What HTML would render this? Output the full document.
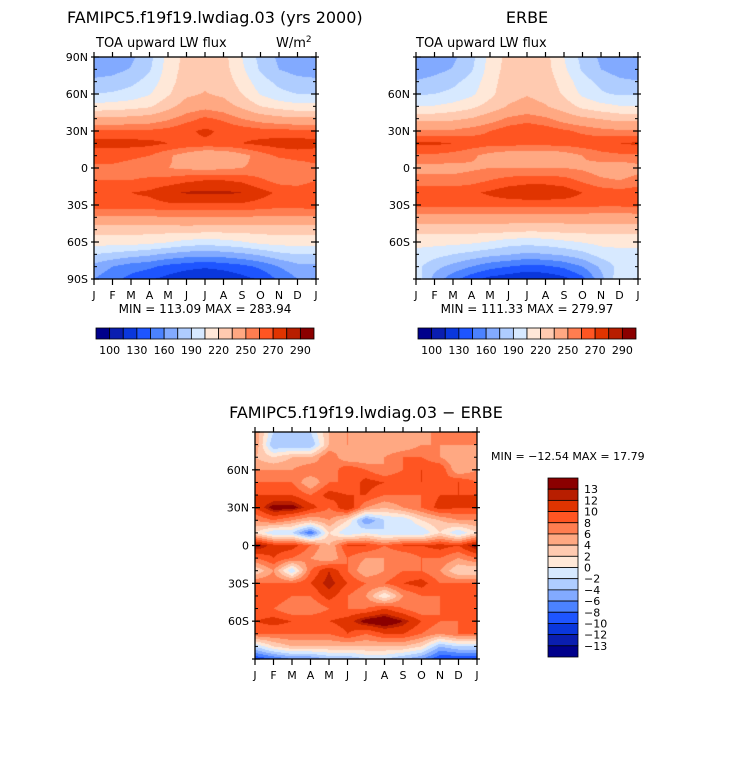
<!DOCTYPE html>
<html><head><meta charset="utf-8"><style>
body{margin:0;background:#fff;width:733px;height:770px;overflow:hidden;position:relative;font-family:"Liberation Sans","DejaVu Sans",sans-serif}
canvas{position:absolute}
svg{position:absolute;left:0;top:0}
text{font-family:"DejaVu Sans","Liberation Sans",sans-serif;fill:#000}
</style></head><body>
<canvas id="c1" width="222" height="222" style="left:94px;top:57px"></canvas>
<canvas id="c2" width="222" height="222" style="left:416px;top:57px"></canvas>
<canvas id="c3" width="222" height="227" style="left:255px;top:432px"></canvas>
<svg id="s" width="733" height="770"></svg>
<script>
const months=["J","F","M","A","M","J","J","A","S","O","N","D","J"];
const lats=[90,80,70,60,50,40,30,20,10,0,-10,-20,-30,-40,-50,-60,-70,-80,-90];
const colors=["#00008b","#0a1eb0","#0a37dc","#1e55ff","#4b82ff","#82aaff","#afcdff","#d7e9ff","#ffe8d8","#ffcab0","#ffa882","#ff7d50","#ff5522","#e03400","#b81e00","#8b0000"];
const levelsAbs=[100,115,130,145,160,175,190,205,220,235,250,260,270,280,290];
const levelsDiff=[-13,-12,-10,-8,-6,-4,-2,0,2,4,6,8,10,12,13];
const labelsAbs=["100","130","160","190","220","250","270","290"];
const labelsDiff=["13","12","10","8","6","4","2","0","−2","−4","−6","−8","−10","−12","−13"];
const model=[
[165,167,172,185,210,225,228,225,205,185,172,166,165],
[168,170,176,188,212,226,230,226,208,188,175,169,168],
[178,180,186,196,214,228,232,228,214,196,186,180,178],
[190,192,196,204,218,232,236,232,220,204,194,190,190],
[210,212,214,218,230,242,246,242,232,220,214,210,210],
[238,238,240,242,248,256,262,258,250,244,240,238,238],
[262,262,262,262,264,268,272,268,266,264,264,262,262],
[274,274,274,273,270,268,268,268,270,273,275,276,274],
[264,264,262,260,252,244,236,238,246,255,262,264,264],
[258,258,256,254,250,248,246,248,250,252,250,254,258],
[260,260,260,262,264,268,270,270,268,262,256,255,260],
[268,268,270,272,278,281,282,282,280,274,268,266,268],
[266,266,266,266,268,268,268,268,268,266,264,264,266],
[248,248,248,248,250,250,250,250,250,248,248,248,248],
[226,226,226,226,226,228,226,226,226,226,226,226,226],
[212,212,212,210,206,200,198,200,204,210,212,212,212],
[190,186,182,178,172,168,166,168,172,178,186,190,190],
[170,160,152,148,140,135,132,135,140,148,160,170,170],
[160,150,140,132,125,118,115,118,125,132,148,160,160]];
const erbe=[
[160,165,172,185,210,225,230,225,205,185,172,165,160],
[166,170,176,188,212,226,232,226,208,188,175,168,166],
[176,180,186,196,214,228,232,228,214,196,186,178,176],
[188,190,194,202,216,230,234,230,218,202,192,188,188],
[206,206,210,216,226,236,240,236,228,216,210,206,206],
[230,230,232,236,244,252,256,252,244,238,234,230,230],
[252,252,252,256,260,266,268,266,262,258,254,252,252],
[272,272,270,266,264,264,264,264,264,266,268,270,272],
[258,258,256,252,246,242,240,240,244,250,256,258,258],
[246,246,246,248,250,250,250,250,250,248,244,242,246],
[254,254,254,256,260,264,266,266,264,258,252,250,254],
[266,266,266,268,272,276,278,278,276,270,266,264,266],
[264,264,264,264,264,264,264,264,264,264,262,262,264],
[244,244,244,244,244,244,244,244,244,244,244,244,244],
[226,226,226,226,226,226,224,224,226,226,226,226,226],
[210,210,210,208,204,198,196,198,202,206,210,210,210],
[200,196,190,185,180,176,172,174,178,185,196,200,200],
[195,180,170,160,150,145,140,142,148,160,178,195,195],
[200,170,150,135,125,120,115,118,125,140,170,200,200]];
const diff=[
[6,-2,-4,-2,4,6,6,4,6,4,8,6,6],
[6,-4,-4,-4,4,6,4,4,4,6,6,6,6],
[4,2,4,4,8,4,4,6,8,8,6,4,4],
[6,6,6,8,6,10,8,6,8,10,10,4,6],
[8,8,8,4,8,8,11,10,10,10,8,10,8],
[10,10,10,8,11,10,10,8,8,8,10,10,10],
[10,14,14,11,8,12,6,4,6,8,11,10,10],
[6,8,6,4,6,2,-6,-2,-2,2,4,6,6],
[2,-2,-2,-8,2,-2,0,-2,-2,-2,2,-2,2],
[14,11,11,8,4,10,10,8,10,10,11,10,14],
[8,10,8,6,4,8,6,6,6,8,8,6,8],
[2,6,-2,8,12,8,4,6,8,8,6,2,2],
[8,8,8,10,13,10,8,8,10,11,8,8,8],
[10,10,8,8,11,8,6,0,6,8,8,10,10],
[8,8,6,6,8,8,8,10,8,6,8,8,8],
[10,11,10,10,10,11,14,15,13,10,8,8,10],
[8,8,8,8,8,10,8,10,10,8,6,8,8],
[-2,2,4,4,4,4,4,4,4,2,-4,-2,-2],
[-10,-8,-6,-6,-4,-4,-2,-2,-4,-6,-10,-10,-10]];

function hex(c){return [parseInt(c.substr(1,2),16),parseInt(c.substr(3,2),16),parseInt(c.substr(5,2),16)];}
const rgb=colors.map(hex);
function draw(id,data,levels){
  const cv=document.getElementById(id),ctx=cv.getContext('2d'),W=cv.width,H=cv.height;
  const img=ctx.createImageData(W,H);
  const nc=months.length-1,nr=lats.length-1;
  for(let y=0;y<H;y++){
    const fy=(y+0.5)/H*nr,r=Math.min(nr-1,Math.floor(fy)),ty=fy-r;
    for(let x=0;x<W;x++){
      const fx=(x+0.5)/W*nc,c=Math.min(nc-1,Math.floor(fx)),tx=fx-c;
      const v=(data[r][c]*(1-tx)+data[r][c+1]*tx)*(1-ty)+(data[r+1][c]*(1-tx)+data[r+1][c+1]*tx)*ty;
      let k=0;while(k<levels.length&&v>=levels[k])k++;
      const col=rgb[k],i=(y*W+x)*4;
      img.data[i]=col[0];img.data[i+1]=col[1];img.data[i+2]=col[2];img.data[i+3]=255;
    }
  }
  ctx.putImageData(img,0,0);
}
draw('c1',model,levelsAbs);draw('c2',erbe,levelsAbs);draw('c3',diff,levelsDiff);

const svg=document.getElementById('s'),NS="http://www.w3.org/2000/svg";
function el(t,a,parent){const e=document.createElementNS(NS,t);for(const k in a)e.setAttribute(k,a[k]);(parent||svg).appendChild(e);return e;}
function txt(s,x,y,size,anchor,name){const e=el('text',{x:x,y:y,'font-size':size,'text-anchor':anchor||'start'});e.textContent=s;


return e;}
function frame(x0,y0,x1,y1,latLabels,pre){
  const g=el('g',{});
  
  
  el('rect',{x:x0,y:y0,width:x1-x0,height:y1-y0,fill:'none',stroke:'#000','stroke-width':1.3},g);
  const ys=v=>y0+(90-v)/180*(y1-y0);
  for(let v=-80;v<=80;v+=10){const y=ys(v);
    el('line',{x1:x0,y1:y,x2:x0+3,y2:y,stroke:'#000'},g);el('line',{x1:x1-3,y1:y,x2:x1,y2:y,stroke:'#000'},g);}
  for(let v=-90;v<=90;v+=30){const y=ys(v);
    el('line',{x1:x0-3,y1:y,x2:x0+5,y2:y,stroke:'#000','stroke-width':1.2},g);el('line',{x1:x1-5,y1:y,x2:x1+3,y2:y,stroke:'#000','stroke-width':1.2},g);}
  latLabels.forEach(v=>{const s=v==0?'0':(Math.abs(v)+(v>0?'N':'S'));txt(s,x0-6,ys(v)+4,11,'end',pre+'-lat-label');});
  months.forEach((m,i)=>{const x=x0+i*(x1-x0)/(months.length-1);
    el('line',{x1:x,y1:y1,x2:x,y2:y1+6,stroke:'#000','stroke-width':1.2},g);
    el('line',{x1:x,y1:y0,x2:x,y2:y0-5,stroke:'#000','stroke-width':1.2},g);
    txt(m,x,y1+20,11,'middle',pre+'-month-label');});
}
frame(94,57,316,279,[90,60,30,0,-30,-60,-90],'model');
frame(416,57,638,279,[60,30,0,-30,-60],'erbe');
frame(255,432,477,659,[60,30,0,-30,-60],'diff');

function hbar(x0,y0,w,h,pre){
  const bw=w/colors.length;
  colors.forEach((c,i)=>{const r=el('rect',{x:x0+i*bw,y:y0,width:bw,height:h,fill:c,stroke:'#000','stroke-width':0.8});
    
    });
  labelsAbs.forEach((s,j)=>txt(s,x0+(2*j+1)*bw,y0+h+15,11,'middle',pre+'-colorbar-label'));
}
hbar(96,328,218,11,'model');hbar(418,328,218,11,'erbe');
const vbx=548,vby=478,vbw=30,vbh=179,bh=vbh/colors.length;
colors.slice().reverse().forEach((c,i)=>{const r=el('rect',{x:vbx,y:vby+i*bh,width:vbw,height:bh,fill:c,stroke:'#000','stroke-width':0.8});
  
  });
labelsDiff.forEach((s,i)=>txt(s,584,vby+(i+1)*bh+4,11,'start','diff-colorbar-label'));

txt('FAMIPC5.f19f19.lwdiag.03 (yrs 2000)',67,23,16,'start','model-title');
txt('TOA upward LW flux',96,47,13,'start','model-subtitle');
const u=txt('W/m',276,47,13,'start','units-label');const sp=el('tspan',{dy:-5,'font-size':9},u);sp.textContent='2';
txt('ERBE',527,23,16,'middle','erbe-title');
txt('TOA upward LW flux',416,47,13,'start','erbe-subtitle');
txt('MIN = 113.09 MAX = 283.94',205,313,12,'middle','model-min-max');
txt('MIN = 111.33 MAX = 279.97',527,313,12,'middle','erbe-min-max');
txt('FAMIPC5.f19f19.lwdiag.03 − ERBE',366,418,16,'middle','diff-title');
txt('MIN = −12.54 MAX =  17.79',491,460,11,'start','diff-min-max');
</script>
</body></html>
